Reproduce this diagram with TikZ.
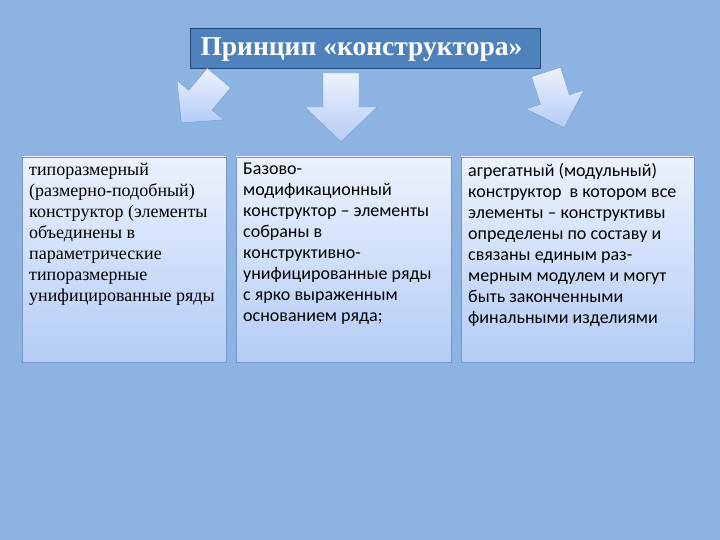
\documentclass[tikz,border=0pt]{standalone}
\usepackage{fontspec}
\setmainfont{Liberation Serif}
\newfontfamily\bodysans{Carlito}
\usetikzlibrary{calc}
\definecolor{bgblue}{RGB}{141, 179, 226}
\definecolor{titleblue}{RGB}{79, 129, 189}
\definecolor{edgeblue}{RGB}{31, 73, 125}
\definecolor{boxtop}{RGB}{236, 242, 253}
\definecolor{boxbottom}{RGB}{180, 204, 246}
\definecolor{boxedge}{RGB}{120, 150, 200}
\tikzset{
  infobox/.style={draw=boxedge, top color=boxtop, bottom color=boxbottom},
  infotext/.style={anchor=north west, align=left, inner sep=0pt, font=\fontsize{18}{21}\selectfont},
  blockarrow/.style={draw=boxedge, top color=boxtop, bottom color=boxbottom}
}
\newcommand{\downarrowshape}[3]{% x, y, rotation
  \draw[blockarrow, shift={(#1,#2)}, rotate=#3]
    (-18,0) -- (18,0) -- (18,34) -- (36,34) -- (0,69) -- (-36,34) -- (-18,34) -- cycle;
}
\begin{document}
\begin{tikzpicture}[x=1pt, y=-1pt]
\fill[bgblue] (0,0) rectangle (720,540);
\useasboundingbox (0,0) rectangle (720,540);

% title
\draw[edgeblue, fill=titleblue] (190,28) rectangle (540,68);
\node[anchor=west, text=white, font=\fontsize{27.5}{30}\selectfont\bfseries] (title) at (197,49) {Принцип «конструктора»};

% arrows
\downarrowshape{341}{73}{0}
\begin{scope}[shift={(219,78)}, scale=0.85]
\downarrowshape{0}{0}{-40}
\end{scope}
\begin{scope}[shift={(546,72)}, scale=0.85]
\downarrowshape{0}{0}{18}
\end{scope}

% boxes
\draw[infobox] (22,157) rectangle (226,362);
\node[infotext] (left) at (29,163) {типоразмерный\\(размерно-подобный)\\конструктор (элементы\\объединены в\\параметрические\\типоразмерные\\унифицированные ряды};

\draw[infobox] (236,157) rectangle (451,362);
\node[infotext, font=\bodysans\fontsize{18}{21}\selectfont] (middle) at (243,163) {Базово-\\модификационный\\конструктор – элементы\\собраны в\\конструктивно-\\унифицированные ряды\\с ярко выраженным\\основанием ряда;};

\draw[infobox] (461,157) rectangle (694,362);
\node[infotext, font=\bodysans\fontsize{18}{21}\selectfont] (right) at (468,163) {агрегатный (модульный)\\конструктор\ \ в котором все\\элементы – конструктивы\\определены по составу и\\связаны единым раз-\\мерным модулем и могут\\быть законченными\\финальными изделиями};
\end{tikzpicture}
\end{document}
